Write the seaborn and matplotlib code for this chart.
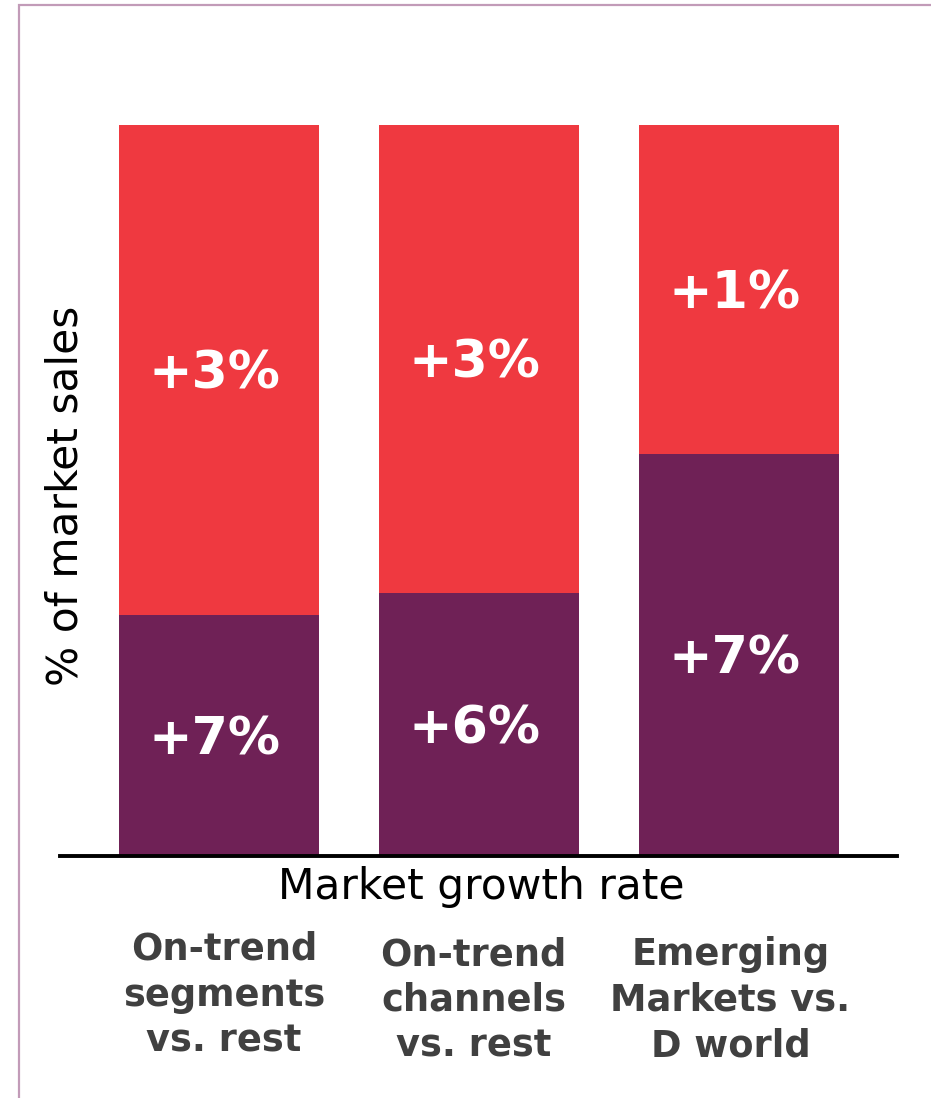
import matplotlib
matplotlib.use("Agg")
import matplotlib.pyplot as plt
import matplotlib.transforms as mtransforms
import seaborn as sns
import pandas as pd
from matplotlib.patches import Rectangle

# ---- data ----
categories = ["On-trend\nsegments\nvs. rest", "On-trend\nchannels\nvs. rest", "Emerging\nMarkets vs.\nD world"]
base_share = [33, 36, 55]      # purple (bottom) share of market sales, %
top_share = [67, 64, 45]       # red (top) share of market sales, %
base_growth = ["+7%", "+6%", "+7%"]
top_growth = ["+3%", "+3%", "+1%"]

RED = "#EF3940"
PURPLE = "#6F2156"
GREY = "#404040"

sns.set_theme(style="white")
plt.rcParams["font.family"] = ["DejaVu Sans"]

df = pd.DataFrame({
    "cat": categories,
    "base": base_share,
    "total": [b + t for b, t in zip(base_share, top_share)],
})

W, H = 931, 1098
fig = plt.figure(figsize=(W / 100, H / 100), dpi=100)
ax = fig.add_axes([60 / W, 1 - 856 / H, (897 - 60) / W, (856 - 125) / H])

sns.barplot(data=df, x="cat", y="total", color=RED, width=0.77, saturation=1,
            linewidth=0, ax=ax)
sns.barplot(data=df, x="cat", y="base", color=PURPLE, width=0.77, saturation=1,
            linewidth=0, ax=ax)

ax.set_xlim(-0.612, 2.61)
ax.set_ylim(0, 100)

# segment labels: digits vertically centred in each segment
lab_fs = 37.5
cap_px = 0.729 * lab_fs / 0.72
shift = mtransforms.offset_copy(ax.transData, fig=fig, x=-3, y=-cap_px / 2 * 0.72,
                                units="points")
for i in range(len(categories)):
    b = base_share[i]
    t = top_share[i]
    ax.text(i, b / 2, base_growth[i], ha="center", va="baseline", color="white",
            fontsize=lab_fs, fontweight="bold", transform=shift)
    ax.text(i, b + t / 2, top_growth[i], ha="center", va="baseline", color="white",
            fontsize=lab_fs, fontweight="bold", transform=shift)

# axes styling
for s in ["top", "right", "left"]:
    ax.spines[s].set_visible(False)
ax.spines["bottom"].set_color("black")
ax.spines["bottom"].set_linewidth(2.8)
ax.set_yticks([])
ax.set_xticks([])
ax.set_xlabel("")
ax.set_ylabel("")

# axis titles
fig.text(481 / W, 1 - 887 / H, "Market growth rate", ha="center", va="center",
         fontsize=30.5, color="black")
fig.text(66 / W, 1 - 496 / H, "% of market sales", ha="center", va="center",
         rotation=90, fontsize=30.5, color="black")

# category labels below
cat_x_off = [5, -5, -8]        # px offsets from bar centre
cat_top_y = [931, 936, 936]
for i, c in enumerate(categories):
    xd = ax.transData.transform((i, 0))[0]
    fig.text((xd + cat_x_off[i]) / W, 1 - cat_top_y[i] / H, c, ha="center", va="top",
             fontsize=26.5, fontweight="bold", color=GREY, linespacing=1.3)

# frame border
fig.patches.append(Rectangle((19 / W, -0.05), 1.2, 1.05 - 5 / H,
                             transform=fig.transFigure, fill=False,
                             edgecolor="#C29BB8", linewidth=1.6))

fig.savefig("out.png", dpi=100)
